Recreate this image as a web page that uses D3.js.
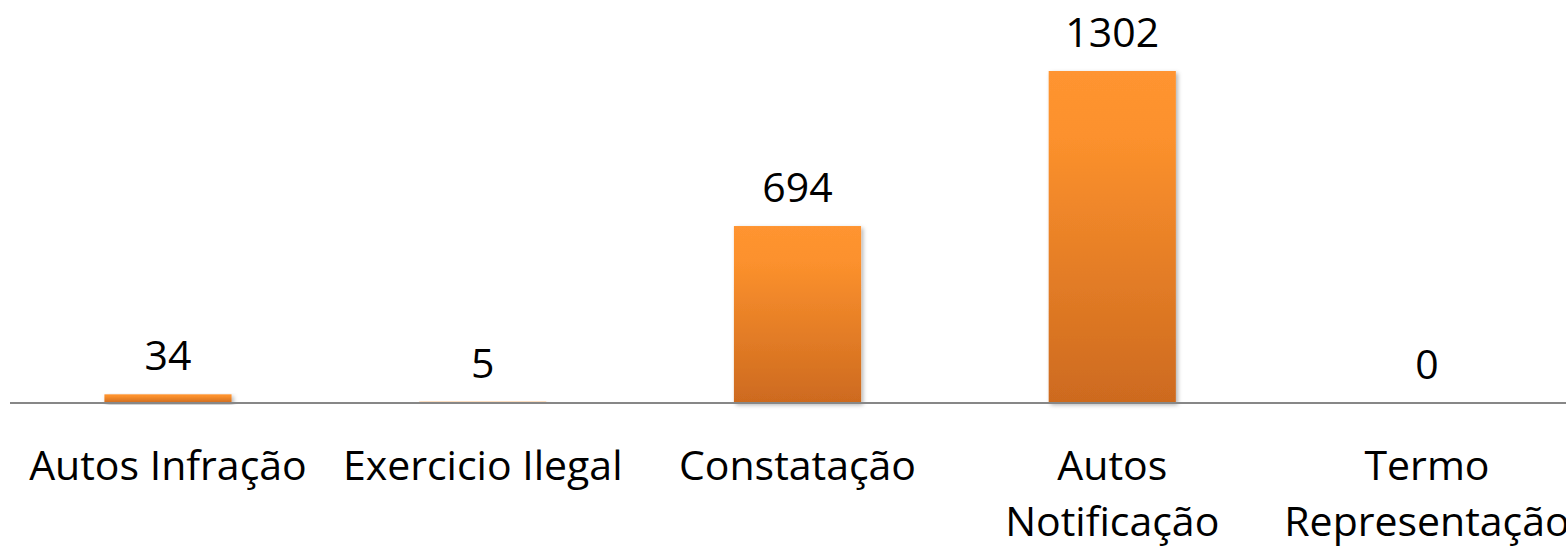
<!DOCTYPE html>
<html><head><meta charset="utf-8">
<script src="https://cdn.jsdelivr.net/npm/d3@7"></script>
<style>html,body{margin:0;padding:0;background:#fff;overflow:hidden}</style>
</head><body>
<svg id="chart" width="1566" height="546"></svg>
<script>
const categories = ["Autos Infração", "Exercicio Ilegal", "Constatação", "Autos Notificação", "Termo Representação"];
const values = [34, 5, 694, 1302, 0];

const svg = d3.select("#chart");
const W = 1566, H = 546;
const baseY = 403;

const defs = svg.append("defs");
const grad = defs.append("linearGradient").attr("id","barGrad").attr("x1",0).attr("y1",0).attr("x2",0).attr("y2",1);
grad.append("stop").attr("offset","0%").attr("stop-color","#ff9430");
grad.append("stop").attr("offset","20%").attr("stop-color","#fc912d");
grad.append("stop").attr("offset","100%").attr("stop-color","#cd6a1f");
const f = defs.append("filter").attr("id","shadow").attr("x","-10%").attr("y","-10%").attr("width","130%").attr("height","130%");
f.append("feDropShadow").attr("dx",2).attr("dy",2).attr("stdDeviation",2).attr("flood-color","#000").attr("flood-opacity",0.3);

const x = d3.scaleBand().domain(categories).range([10.6, 1584.4]).paddingInner(0.596).paddingOuter(0.298);
const y = d3.scaleLinear().domain([0, 1302]).range([baseY, 71]);

// bars
svg.append("g").selectAll("rect").data(categories).join("rect")
  .attr("x", d => x(d))
  .attr("width", x.bandwidth())
  .attr("y", (d,i) => y(values[i]))
  .attr("height", (d,i) => baseY - y(values[i]))
  .attr("fill", "url(#barGrad)")
  .attr("filter", "url(#shadow)");

// baseline
svg.append("line").attr("x1",10).attr("x2",W).attr("y1",baseY).attr("y2",baseY)
  .attr("stroke","#878787").attr("stroke-width",2);

const font = "'Open Sans', sans-serif";
const fs = 41;

// value labels
svg.append("g").selectAll("text").data(categories).join("text")
  .attr("x", d => x(d) + x.bandwidth()/2)
  .attr("y", (d,i) => y(values[i]) - 24)
  .attr("text-anchor","middle")
  .attr("font-family", font).attr("font-size", fs).attr("fill","#000")
  .text((d,i) => values[i]);

// category labels with wrapping
const g = svg.append("g");
categories.forEach(c => {
  const cx = x(c) + x.bandwidth()/2;
  const t = g.append("text").attr("x", cx).attr("y", 480)
    .attr("text-anchor","middle").attr("font-family", font).attr("font-size", fs).attr("fill","#000");
  const words = c.split(" ");
  let line = [];
  let tspan = t.append("tspan").attr("x", cx).attr("dy", 0);
  words.forEach(w => {
    line.push(w);
    tspan.text(line.join(" "));
    if (tspan.node().getComputedTextLength() > x.step() - 8 && line.length > 1) {
      line.pop();
      tspan.text(line.join(" "));
      line = [w];
      tspan = t.append("tspan").attr("x", cx).attr("dy", 56).text(w);
    }
  });
});
</script>
</body></html>
